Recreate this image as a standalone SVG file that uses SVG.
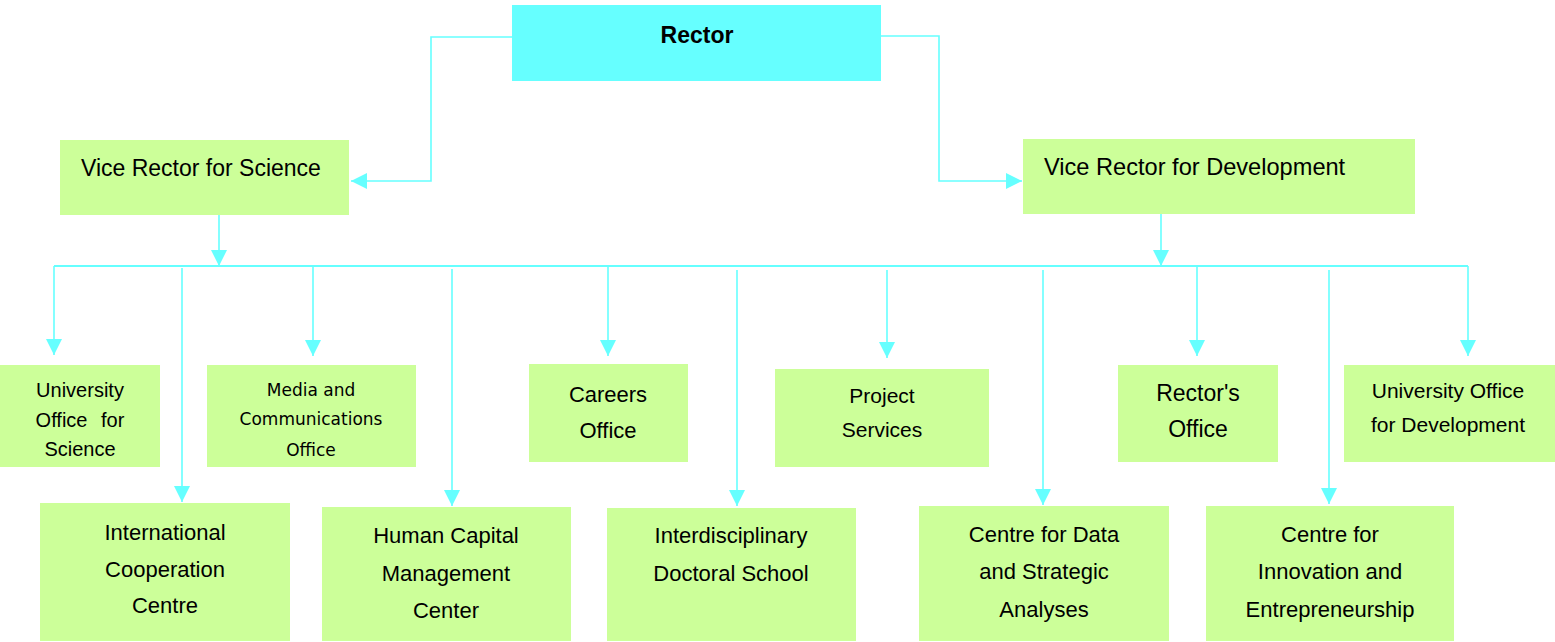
<svg xmlns="http://www.w3.org/2000/svg" width="1555" height="642" viewBox="0 0 1555 642">
<style>
.g{fill:#CCFF99}
.c{fill:#66FFFF}
.ln{fill:none;stroke:#66FFFF;stroke-width:1.6;marker-end:url(#ah)}
.bus{fill:none;stroke:#66FFFF;stroke-width:2}
text{fill:#000;text-anchor:middle;font-family:"Liberation Sans",Arial,sans-serif}
.t20{font-size:20px}
.t21{font-size:21px}
.t22{font-size:22px}
.t23{font-size:23px}
.dj{font-family:"DejaVu Sans",Verdana,sans-serif;font-size:17px}
.l{text-anchor:start}
</style>
<defs>
<marker id="ah" markerUnits="userSpaceOnUse" markerWidth="16" markerHeight="16" refX="16" refY="8" orient="auto">
<path d="M0,0 L16,8 L0,16 z" fill="#66FFFF"/>
</marker>
</defs>
<g id="connectors">
<path class="ln" d="M512,37 H431 V181 H351"/>
<path class="ln" d="M881,36 H939 V181 H1022"/>
<path class="ln" d="M219,215 V266"/>
<path class="ln" d="M1161,214 V266"/>
<path class="bus" d="M54,266 H1468"/>
<path class="ln" d="M54,266 V355"/>
<path class="ln" d="M182,268 V502"/>
<path class="ln" d="M313,266 V356"/>
<path class="ln" d="M452,269 V506"/>
<path class="ln" d="M608,266 V356"/>
<path class="ln" d="M737,270 V506"/>
<path class="ln" d="M887,270 V358"/>
<path class="ln" d="M1043,270 V505"/>
<path class="ln" d="M1197,266 V356"/>
<path class="ln" d="M1329,270 V504"/>
<path class="ln" d="M1468,266 V356"/>
</g>
<g id="rector">
<rect class="c" x="512" y="5" width="369" height="76"/>
<text x="697" y="43" class="t23" font-weight="bold">Rector</text>
</g>
<g id="vr-science">
<rect class="g" x="60" y="140" width="289" height="75"/>
<text x="81" y="176" class="t23 l">Vice Rector for Science</text>
</g>
<g id="vr-development">
<rect class="g" x="1023" y="139" width="392" height="75"/>
<text x="1044" y="175" class="l" font-size="23.6">Vice Rector for Development</text>
</g>
<g id="univ-office-science">
<rect class="g" x="0" y="365" width="160" height="102"/>
<text x="80" y="397" class="t20">University</text>
<text x="80" y="427" class="t20" word-spacing="8">Office for</text>
<text x="80" y="456" class="t20">Science</text>
</g>
<g id="media">
<rect class="g" x="207" y="365" width="209" height="102"/>
<text x="311" y="396" class="dj">Media and</text>
<text x="311" y="425" class="dj">Communications</text>
<text x="311" y="456" class="dj">Office</text>
</g>
<g id="careers">
<rect class="g" x="529" y="364" width="159" height="98"/>
<text x="608" y="402" class="t22">Careers</text>
<text x="608" y="438" class="t22">Office</text>
</g>
<g id="project">
<rect class="g" x="775" y="369" width="214" height="98"/>
<text x="882" y="403" class="t21">Project</text>
<text x="882" y="437" class="t21">Services</text>
</g>
<g id="rectors-office">
<rect class="g" x="1118" y="365" width="160" height="97"/>
<text x="1198" y="401" class="t23">Rector's</text>
<text x="1198" y="437" class="t23">Office</text>
</g>
<g id="univ-office-development">
<rect class="g" x="1344" y="365" width="211" height="97"/>
<text x="1448" y="398" class="t21">University Office</text>
<text x="1448" y="432" class="t21">for Development</text>
</g>
<g id="international">
<rect class="g" x="40" y="503" width="250" height="138"/>
<text x="165" y="540" class="t22">International</text>
<text x="165" y="577" class="t22">Cooperation</text>
<text x="165" y="613" class="t22">Centre</text>
</g>
<g id="human-capital">
<rect class="g" x="322" y="507" width="249" height="134"/>
<text x="446" y="543" class="t22">Human Capital</text>
<text x="446" y="581" class="t22">Management</text>
<text x="446" y="618" class="t22">Center</text>
</g>
<g id="doctoral">
<rect class="g" x="607" y="508" width="249" height="133"/>
<text x="731" y="543" class="t22">Interdisciplinary</text>
<text x="731" y="581" class="t22">Doctoral School</text>
</g>
<g id="data">
<rect class="g" x="919" y="506" width="250" height="135"/>
<text x="1044" y="542" class="t22">Centre for Data</text>
<text x="1044" y="579" class="t22">and Strategic</text>
<text x="1044" y="617" class="t22">Analyses</text>
</g>
<g id="innovation">
<rect class="g" x="1206" y="506" width="248" height="135"/>
<text x="1330" y="542" class="t22">Centre for</text>
<text x="1330" y="579" class="t22">Innovation and</text>
<text x="1330" y="617" class="t22">Entrepreneurship</text>
</g>
</svg>
